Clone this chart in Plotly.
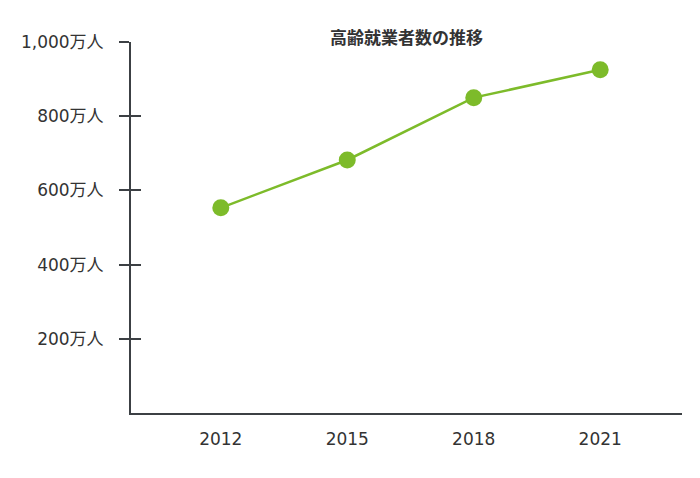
import plotly.graph_objects as go

years = [2012, 2015, 2018, 2021]
workers = [553, 682, 850, 925]
ytick_vals = [200, 400, 600, 800, 1000]
ytick_text = ["200万人", "400万人", "600万人", "800万人", "1,000万人"]
title_text = "高齢就業者数の推移"

green = "#7dbb2a"
axis_col = "#3c4044"
font_fam = "DejaVu Sans, Noto Sans CJK JP, sans-serif"

fig = go.Figure()
fig.add_trace(go.Scatter(
    x=years, y=workers, mode="lines+markers",
    line=dict(color=green, width=2.5),
    marker=dict(color=green, size=17),
    showlegend=False, cliponaxis=False,
))
# invisible trace on overlay axis for inside tick marks
fig.add_trace(go.Scatter(x=[years[0]], y=[ytick_vals[0]], yaxis="y2",
                         mode="markers", marker=dict(opacity=0), showlegend=False,
                         hoverinfo="skip"))

fig.update_layout(
    width=700, height=478,
    margin=dict(l=123, r=26, t=34, b=73),
    paper_bgcolor="white", plot_bgcolor="white",
    font=dict(family=font_fam, size=15, color="#333333"),
    xaxis=dict(
        range=[2009.87, 2022.94], tickvals=years, ticktext=[str(y) for y in years],
        showgrid=False, zeroline=False, showline=True, linecolor=axis_col, linewidth=2,
        ticks="", ticklabelstandoff=10, tickfont=dict(size=17, color="#333333"),
    ),
    yaxis=dict(
        range=[0, 1000], tickvals=ytick_vals, ticktext=ytick_text,
        showgrid=False, zeroline=False, showline=True, linecolor=axis_col, linewidth=2,
        ticks="outside", ticklen=10, tickwidth=2, tickcolor=axis_col,
        ticklabelstandoff=12, tickfont=dict(size=17, color="#333333"),
    ),
    yaxis2=dict(
        range=[0, 1000], overlaying="y", side="left", tickvals=ytick_vals,
        showticklabels=False, showgrid=False, zeroline=False, showline=False,
        ticks="inside", ticklen=10, tickwidth=2, tickcolor=axis_col,
    ),
    annotations=[dict(
        text=title_text, xref="paper", yref="paper", x=0.5, y=1, yanchor="middle",
        yshift=6, showarrow=False,
        font=dict(size=17, color="#333333", family="Noto Sans CJK JP, sans-serif"),
    )],
)
fig.update_annotations(font_weight="bold")
fig.write_html("out.html")
